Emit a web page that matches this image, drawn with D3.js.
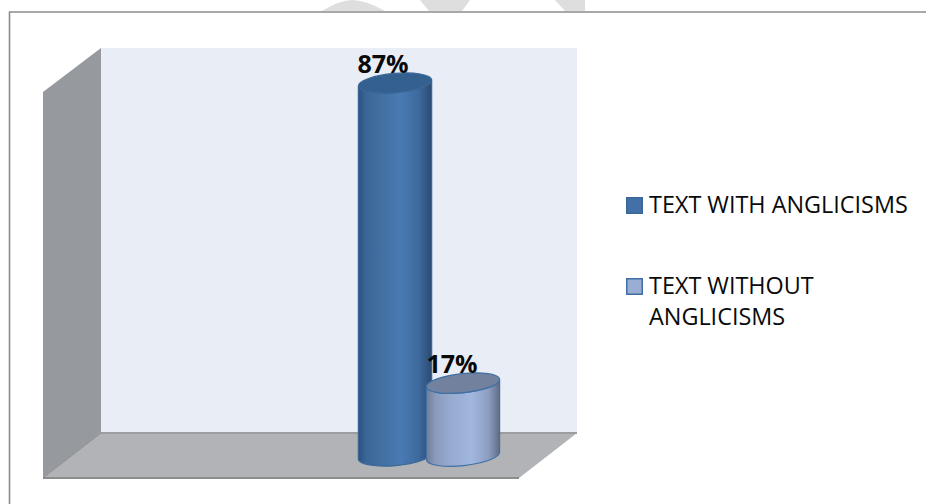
<!DOCTYPE html>
<html>
<head>
<meta charset="utf-8">
<script src="https://cdn.jsdelivr.net/npm/d3@7"></script>
<style>
html,body{margin:0;padding:0;background:#fff;overflow:hidden}
text{font-family:"Open Sans","Noto Sans",sans-serif;fill:#0a0a0a}
</style>
</head>
<body>
<svg id="chart" width="926" height="504"></svg>
<script>
const categories = ["TEXT WITH ANGLICISMS", "TEXT WITHOUT ANGLICISMS"];
const values = [87, 17];
const labels = ["87%", "17%"];
const legendLines = [["TEXT WITH ANGLICISMS"], ["TEXT WITHOUT", "ANGLICISMS"]];
const bodyStops = [
  [["0%","#2b5180"],["10%","#3a6598"],["30%","#416f9f"],["58%","#4a7ab3"],["82%","#3e6a9d"],["100%","#2a4a72"]],
  [["0%","#6f7c94"],["12%","#8b9abb"],["35%","#98acd2"],["62%","#a2b7de"],["85%","#8c9dc0"],["100%","#5f6c84"]]
];
const topFills = ["#33608f", "#72829e"];
const strokes = ["#3a6797", "#3f6fa4"];
const swatchFills = ["#4470a8", "#9aadd4"];
const tilts = [-5, -6];

const svg = d3.select("#chart");
const defs = svg.append("defs");

// faint watermark remnants above the frame
const line = d3.line();
const wm = svg.append("g").attr("fill", "#dedede");
wm.append("path").attr("d", "M322,11 Q340,0 352,0 Q365,0 385,11 Z");
wm.append("path").attr("d", line([[420,0],[470,0],[462,11],[429,11]]) + "Z");
wm.append("path").attr("d", line([[555,0],[585,0],[585,11],[565,11]]) + "Z");

// frame: only top and left edges fall inside the picture
svg.append("path").attr("d", line([[9.5,504],[9.5,12],[926,12]]))
  .attr("fill", "none").attr("stroke", "#8c8c8c").attr("stroke-width", 1.6);

// 3D walls
const wallLeft = 101, wallRight = 577, wallTop = 48, wallBottom = 433;
const depthX = 58, depthY = 45;
svg.append("rect").attr("x", wallLeft).attr("y", wallTop)
  .attr("width", wallRight - wallLeft).attr("height", wallBottom - wallTop).attr("fill", "#e9edf6");
svg.append("path").attr("d", line([[wallLeft,wallTop],[wallLeft,wallBottom],[wallLeft-depthX,wallBottom+depthY],[wallLeft-depthX,wallTop+depthY-1]]) + "Z")
  .attr("fill", "#96999e");
svg.append("path").attr("d", line([[wallLeft,wallBottom],[wallRight,wallBottom],[wallRight-depthX,wallBottom+depthY],[wallLeft-depthX,wallBottom+depthY]]) + "Z")
  .attr("fill", "#b1b3b6");
svg.append("path").attr("d", line([[wallLeft,wallBottom],[wallRight,wallBottom]])).attr("stroke", "#9b9da0").attr("stroke-width", 2);
svg.append("path").attr("d", line([[wallLeft,wallBottom],[wallLeft-depthX,wallBottom+depthY]])).attr("stroke", "#8e9094").attr("stroke-width", 1);
svg.append("path").attr("d", line([[wallLeft-depthX,wallBottom+depthY],[wallRight-depthX,wallBottom+depthY]])).attr("stroke", "#8a8c8e").attr("stroke-width", 2);

// scales
const y = d3.scaleLinear().domain([0, 87]).range([456, 83]);
const x = d3.scaleBand().domain(categories).range([361, 497]);
const rx = 36.8, ry = 9.6;

categories.forEach((c, i) => {
  const g = defs.append("linearGradient").attr("id", "body" + i);
  bodyStops[i].forEach(s => g.append("stop").attr("offset", s[0]).attr("stop-color", s[1]));
});

const bars = svg.selectAll("g.bar").data(categories).join("g").attr("class", "bar");
bars.each(function (c, i) {
  const g = d3.select(this);
  const cx = x(c) + x.bandwidth() / 2;
  const t = tilts[i] * Math.PI / 180;
  const dx = rx * Math.cos(t), dy = rx * Math.sin(t);
  const yT = y(values[i]), yB = y(0);
  g.append("path")
    .attr("d", `M${cx-dx},${yT-dy}L${cx-dx},${yB-dy}A${rx},${ry} ${tilts[i]} 0 0 ${cx+dx},${yB+dy}L${cx+dx},${yT+dy}A${rx},${ry} ${tilts[i]} 0 1 ${cx-dx},${yT-dy}Z`)
    .attr("fill", `url(#body${i})`).attr("stroke", strokes[i]).attr("stroke-width", 1.2);
  g.append("ellipse").attr("cx", 0).attr("cy", 0).attr("rx", rx).attr("ry", ry)
    .attr("transform", `translate(${cx},${yT}) rotate(${tilts[i]})`)
    .attr("fill", topFills[i]).attr("stroke", strokes[i]).attr("stroke-width", 1.2);
});

// value labels
const labelDx = [-12, -11];
svg.selectAll("text.val").data(categories).join("text").attr("class", "val")
  .attr("x", (c, i) => x(c) + x.bandwidth() / 2 + labelDx[i])
  .attr("y", (c, i) => y(values[i]) - 10)
  .attr("text-anchor", "middle").attr("font-weight", 700).attr("font-size", 25)
  .text((c, i) => labels[i]);

// legend
const legendY = [197, 278];
const legend = svg.selectAll("g.leg").data(categories).join("g").attr("class", "leg")
  .attr("transform", (c, i) => `translate(626,${legendY[i]})`);
legend.append("rect").attr("x", 0.75).attr("y", 0.75).attr("width", 15.5).attr("height", 15.5)
  .attr("fill", (c, i) => swatchFills[i]).attr("stroke", (c, i) => strokes[i]).attr("stroke-width", 1.5);
legend.each(function (c, i) {
  d3.select(this).selectAll("text").data(legendLines[i]).join("text")
    .attr("x", 23).attr("y", (d, j) => 16 + j * 31)
    .attr("font-size", 23.4).text(d => d);
});
</script>
</body>
</html>
